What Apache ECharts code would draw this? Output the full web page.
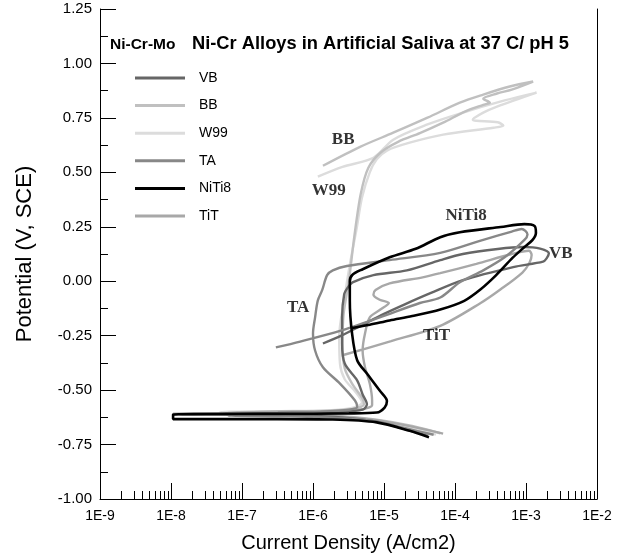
<!DOCTYPE html>
<html><head><meta charset="utf-8">
<script src="https://cdn.jsdelivr.net/npm/echarts@6/dist/echarts.min.js"></script>
<style>html,body{margin:0;padding:0;background:#fff}#c{width:626px;height:553px}</style>
</head><body><div id="c"></div>
<script>
// ---- data: [current density (A/cm2), potential (V, SCE)] ----
const legendOrder = ['VB','BB','W99','TA','NiTi8','TiT'];
const xMajorTicks = [1e-9,1e-8,1e-7,1e-6,1e-5,1e-4,1e-3,1e-2];
const yTicks = ['-1.00','-0.75','-0.50','-0.25','0.00','0.25','0.50','0.75','1.00','1.25'];

const VB = [[4.2e-5,-0.71],[2.0e-5,-0.68],[7.9e-6,-0.645],[2.5e-6,-0.625],[3.2e-7,-0.614],[1.07e-8,-0.61],[3.2e-7,-0.605],[2.5e-6,-0.6],[5.0e-6,-0.59],[5.75e-6,-0.565],[5.0e-6,-0.52],[4.2e-6,-0.456],[2.8e-6,-0.378],[2.57e-6,-0.286],[2.57e-6,-0.166],[2.75e-6,-0.06],[3.1e-6,-0.028],[3.6e-6,-0.005],[7.1e-6,0.028],[2.1e-5,0.05],[6.2e-5,0.097],[1.29e-4,0.125],[4.0e-4,0.148],[9.1e-4,0.157],[1.58e-3,0.15],[2.1e-3,0.128],[1.95e-3,0.105],[1.74e-3,0.09],[6.6e-4,0.065],[1.29e-4,0.005],[4.5e-5,-0.055],[2.0e-5,-0.105],[1.0e-5,-0.15],[5.0e-6,-0.2],[2.5e-6,-0.25],[1.38e-6,-0.286]];

const BB = [[6.2e-5,-0.698],[2.5e-5,-0.665],[7.9e-6,-0.636],[2.5e-6,-0.62],[4.0e-7,-0.608],[6.3e-8,-0.603],[3.2e-7,-0.598],[1.58e-6,-0.594],[4.0e-6,-0.585],[5.2e-6,-0.565],[5.0e-6,-0.54],[3.55e-6,-0.47],[2.8e-6,-0.4],[2.6e-6,-0.3],[2.7e-6,-0.15],[3.2e-6,0.0],[3.8e-6,0.2],[4.7e-6,0.4],[6.0e-6,0.52],[8.9e-6,0.59],[1.58e-5,0.64],[3.2e-5,0.68],[6.8e-5,0.728],[1.4e-4,0.78],[2.5e-4,0.81],[3.1e-4,0.82],[2.5e-4,0.838],[3.9e-4,0.862],[6.3e-4,0.88],[1.26e-3,0.917],[5.9e-4,0.894],[2.5e-4,0.857],[1.17e-4,0.82],[4.1e-5,0.751],[1.35e-5,0.682],[4.6e-6,0.617],[1.38e-6,0.53]];

const W99 = [[5.4e-5,-0.704],[2.2e-5,-0.67],[7.9e-6,-0.64],[2.5e-6,-0.622],[4.0e-7,-0.61],[4.9e-8,-0.601],[3.2e-7,-0.597],[1.58e-6,-0.593],[3.55e-6,-0.582],[4.9e-6,-0.557],[4.0e-6,-0.51],[2.8e-6,-0.45],[2.4e-6,-0.38],[2.34e-6,-0.25],[2.75e-6,-0.086],[3.3e-6,0.076],[4.1e-6,0.238],[4.9e-6,0.384],[6.3e-6,0.5],[7.9e-6,0.56],[1.1e-5,0.6],[2.3e-5,0.636],[6.8e-5,0.673],[3.5e-4,0.705],[4.8e-4,0.714],[4.0e-4,0.73],[1.78e-4,0.742],[2.5e-4,0.774],[3.9e-4,0.802],[1.41e-3,0.866],[5.0e-4,0.83],[1.17e-4,0.77],[4.1e-5,0.72],[1.35e-5,0.65],[7.1e-6,0.567],[2.6e-6,0.525],[1.17e-6,0.48]];

const TA = [[5.0e-5,-0.705],[2.0e-5,-0.675],[7.9e-6,-0.645],[2.5e-6,-0.628],[4.0e-7,-0.62],[6.3e-8,-0.617],[3.2e-7,-0.608],[1.26e-6,-0.6],[3.2e-6,-0.59],[4.2e-6,-0.578],[3.9e-6,-0.548],[2.4e-6,-0.47],[1.38e-6,-0.395],[1.07e-6,-0.318],[1.0e-6,-0.24],[1.07e-6,-0.166],[1.17e-6,-0.088],[1.35e-6,-0.04],[1.58e-6,0.028],[1.9e-6,0.05],[3.0e-6,0.07],[1.2e-5,0.097],[6.2e-5,0.13],[2.5e-4,0.19],[6.3e-4,0.228],[8.7e-4,0.24],[1.05e-3,0.215],[9.5e-4,0.19],[5.0e-4,0.11],[2.5e-4,0.05],[1.17e-4,-0.005],[6.2e-5,-0.075],[3.2e-5,-0.1],[8.9e-6,-0.165],[2.4e-6,-0.228],[6.6e-7,-0.277],[3.0e-7,-0.304]];

const NiTi8 = [[4.3e-5,-0.717],[2.3e-5,-0.687],[7.9e-6,-0.648],[1.9e-6,-0.635],[3.2e-7,-0.633],[1.07e-8,-0.633],[1.07e-8,-0.612],[3.2e-7,-0.609],[3.2e-6,-0.607],[7.9e-6,-0.603],[1.02e-5,-0.58],[1.1e-5,-0.55],[8.7e-6,-0.502],[5.75e-6,-0.424],[4.2e-6,-0.364],[3.55e-6,-0.24],[3.3e-6,-0.088],[3.3e-6,0.0],[3.6e-6,0.03],[5.0e-6,0.055],[1.2e-5,0.11],[2.8e-5,0.149],[6.2e-5,0.202],[1.17e-4,0.225],[4.4e-4,0.249],[9.5e-4,0.262],[1.32e-3,0.254],[1.38e-3,0.222],[1.23e-3,0.189],[9.5e-4,0.157],[6.5e-4,0.108],[3.8e-4,0.028],[2.3e-4,-0.037],[1.35e-4,-0.09],[6.2e-5,-0.13],[2.5e-5,-0.16],[1.2e-5,-0.18],[6.3e-6,-0.2],[3.55e-6,-0.215]];

const TiT = [[6.8e-5,-0.70],[2.5e-5,-0.668],[7.9e-6,-0.638],[2.5e-6,-0.622],[4.0e-7,-0.612],[5.6e-8,-0.605],[3.2e-7,-0.599],[1.58e-6,-0.597],[4.5e-6,-0.59],[6.8e-6,-0.57],[6.8e-6,-0.548],[6.3e-6,-0.47],[5.4e-6,-0.395],[5.0e-6,-0.318],[5.4e-6,-0.24],[6.3e-6,-0.166],[8.9e-6,-0.13],[1.17e-5,-0.1],[8.7e-6,-0.085],[7.1e-6,-0.062],[7.6e-6,-0.04],[1.2e-5,-0.01],[3.5e-5,0.018],[6.2e-5,0.037],[2.0e-4,0.08],[6.3e-4,0.125],[1.1e-3,0.14],[1.2e-3,0.12],[1.12e-3,0.085],[8.9e-4,0.04],[4.4e-4,-0.037],[2.3e-4,-0.1],[6.2e-5,-0.205],[1.26e-5,-0.275],[2.6e-6,-0.34]];

const curveLabels = [
  {name:'BB', value:[2.66e-6,0.648]},
  {name:'W99', value:[1.67e-6,0.4175]},
  {name:'NiTi8', value:[1.43e-4,0.30]},
  {name:'VB', value:[3.09e-3,0.125]},
  {name:'TA', value:[6.17e-7,-0.119]},
  {name:'TiT', value:[5.5e-5,-0.249]}
];

// ---- style ----
const styles = {
  W99:  {color:'#dcdcdc', data:W99},
  BB:   {color:'#c0c0c0', data:BB},
  TiT:  {color:'#a8a8a8', data:TiT},
  VB:   {color:'#666666', data:VB},
  TA:   {color:'#888888', data:TA},
  NiTi8:{color:'#000000', data:NiTi8}
};
const drawOrder = ['W99','BB','TiT','VB','TA','NiTi8'];
const xMinorTicks = [];
for (let e = -9; e < -2; e++) for (let m = 2; m <= 9; m++) xMinorTicks.push(m * Math.pow(10, e));

const SANS = '"Liberation Sans", Arial, sans-serif';
const SERIF = '"Liberation Serif", "Times New Roman", serif';

const chart = echarts.init(document.getElementById('c'), null, {renderer:'canvas'});
const series = drawOrder.map((n, i) => ({
  name:n, type:'line', data:styles[n].data, xAxisIndex:0, yAxisIndex:0,
  showSymbol:false, symbol:'none', smooth:0.3, z:2+i,
  lineStyle:{color:styles[n].color, width: n==='NiTi8'?2.6:2.4},
  itemStyle:{color:styles[n].color}, animation:false
}));
series.push({
  name:'labels', type:'scatter', data:curveLabels, symbolSize:1, z:20,
  itemStyle:{color:'transparent'}, silent:true,
  label:{show:true, position:'inside', formatter:p=>p.name, color:'#000',
    fontFamily:SERIF, fontWeight:'bold', fontSize:17}
});

chart.setOption({
  animation:false,
  backgroundColor:'#fff',
  title:[
    {text:'Ni-Cr-Mo', left:110, top:37, padding:0, textStyle:{fontFamily:SANS, fontWeight:'bold', fontSize:15.5, color:'#000'}},
    {text:'Ni-Cr Alloys in Artificial Saliva at 37 C/ pH 5', left:192, top:35, padding:0, textStyle:{fontFamily:SANS, fontWeight:'bold', fontSize:18.3, color:'#000'}}
  ],
  legend:{
    data:legendOrder, orient:'vertical', left:135, top:70, padding:0,
    icon:'rect', itemWidth:50, itemHeight:3, itemGap:11.6,
    textStyle:{fontFamily:SANS, fontSize:14, lineHeight:16, color:'#000', padding:[0,0,0,9]},
    selectedMode:false
  },
  grid:{left:100, right:29, top:9, bottom:54, containLabel:false, outerBoundsMode:'none'},
  xAxis:[{
    type:'log', logBase:10, min:1e-9, max:1e-2, position:'bottom',
    name:'Current Density (A/cm2)', nameLocation:'middle', nameGap:34,
    nameTextStyle:{fontFamily:SANS, fontSize:20, color:'#000'},
    axisLine:{show:true, onZero:false, lineStyle:{color:'#000', width:1}},
    axisTick:{show:true, inside:true, length:16, customValues:xMajorTicks, lineStyle:{color:'#000'}},
    axisLabel:{show:true, customValues:xMajorTicks, margin:10, fontFamily:SANS, fontSize:14, color:'#000',
      formatter:v=>'1E' + Math.round(Math.log10(v))},
    splitLine:{show:false}
  },{
    type:'log', logBase:10, min:1e-9, max:1e-2, position:'bottom',
    axisLine:{show:false, onZero:false}, axisLabel:{show:false}, splitLine:{show:false},
    axisTick:{show:true, inside:true, length:8, customValues:xMinorTicks, lineStyle:{color:'#000'}}
  }],
  yAxis:[{
    type:'value', min:-1, max:1.25, interval:0.25, position:'left',
    name:'Potential (V, SCE)', nameLocation:'middle', nameGap:64,
    nameTextStyle:{fontFamily:SANS, fontSize:22, color:'#000'},
    axisLine:{show:true, onZero:false, lineStyle:{color:'#000', width:1}},
    axisTick:{show:true, inside:true, length:16, lineStyle:{color:'#000'}},
    minorTick:{show:true, splitNumber:2, length:8, lineStyle:{color:'#000'}},
    axisLabel:{margin:8, fontFamily:SANS, fontSize:15, color:'#000', formatter:v=>v.toFixed(2)},
    splitLine:{show:false}
  },{
    type:'value', min:-1, max:1.25, interval:0.25, position:'right',
    axisLine:{show:true, onZero:false, lineStyle:{color:'#000', width:1}},
    axisTick:{show:false}, axisLabel:{show:false}, splitLine:{show:false}
  }],
  series:series
});
</script>
</body></html>
